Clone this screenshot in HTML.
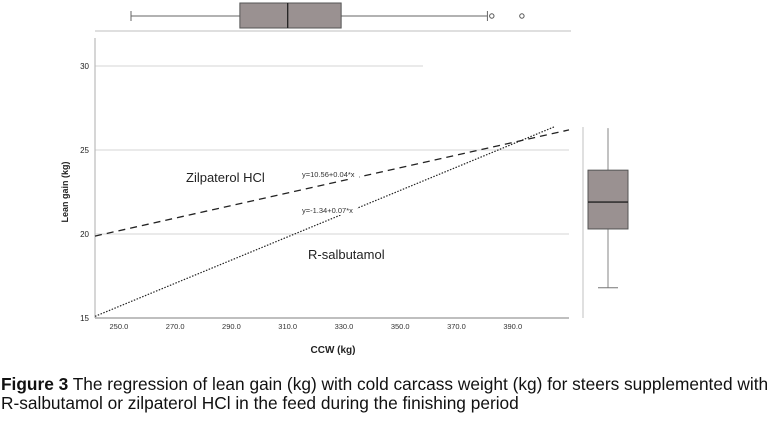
<!DOCTYPE html>
<html><head><meta charset="utf-8"><style>
body{margin:0;background:#fff;width:768px;height:422px;overflow:hidden;font-family:"Liberation Sans",sans-serif}
svg text{font-family:"Liberation Sans",sans-serif}
.cap{position:absolute;left:1px;top:375px;font-size:17.3px;line-height:19px;color:#111;width:767px;white-space:nowrap}
</style></head><body>
<svg width="768" height="370" style="position:absolute;left:0;top:0" id="chart"></svg>
<div class="cap"><b>Figure 3</b> The regression of lean gain (kg) with cold carcass weight (kg) for steers supplemented with<br>R-salbutamol or zilpaterol HCl in the feed during the finishing period</div>
<script>
const xTicks=[250,270,290,310,330,350,370,390];
const yTicks=[15,20,25,30];
const zilIntercept=10.82, zilSlope=0.0375;
const salIntercept=-1.59, salSlope=0.0691;
const ccwBox=[254.3,293,310,329,381];
const ccwOutliers=[382.2,392.9];
const leanBox=[16.8,20.3,21.9,23.8,26.3];
const NS="http://www.w3.org/2000/svg", svg=document.getElementById('chart');
const X0=241.5,X1=410,PL=95,PR=569,YT=66,YB=318;
const sx=v=>PL+(v-X0)*(PR-PL)/(X1-X0);
const sy=v=>YB-(v-15)*(YB-YT)/15;
function el(t,a,name,txt){const e=document.createElementNS(NS,t);for(const k in a)e.setAttribute(k,a[k]);


if(txt)e.textContent=txt;svg.appendChild(e);return e;}
yTicks.forEach(t=>{if(t>15)el('line',{x1:PL,x2:t==30?423:PR,y1:sy(t),y2:sy(t),stroke:'#ddd','stroke-width':1.2},'gridline-'+t);
el('text',{x:PL-6,y:sy(t)+3,'font-size':8,'text-anchor':'end',fill:'#222'},'y-tick-'+t,String(t));});
el('line',{x1:PL,x2:PL,y1:38,y2:YB,stroke:'#bbb','stroke-width':1.2},'y-axis');
el('line',{x1:PL,x2:PR,y1:YB,y2:YB,stroke:'#999','stroke-width':1.2},'x-axis');
xTicks.forEach(t=>el('text',{x:sx(t),y:YB+11,'font-size':7.5,'text-anchor':'middle',fill:'#333'},'x-tick-'+t,t.toFixed(1)));
el('text',{x:333,y:353,'font-size':10,'font-weight':'bold','text-anchor':'middle',fill:'#222'},'x-axis-title','CCW (kg)');
el('text',{x:0,y:0,'font-size':9,'font-weight':'bold','text-anchor':'middle',fill:'#222',transform:'translate(68,192) rotate(-90)'},'y-axis-title','Lean gain (kg)');
el('line',{x1:sx(X0),y1:sy(zilIntercept+zilSlope*X0),x2:sx(X1),y2:sy(zilIntercept+zilSlope*X1),stroke:'#222','stroke-width':1.3,'stroke-dasharray':'7,5'},'zilpaterol-line');
const sEnd=405;
el('line',{x1:sx(X0),y1:sy(salIntercept+salSlope*X0),x2:sx(sEnd),y2:sy(salIntercept+salSlope*sEnd),stroke:'#222','stroke-width':1.2,'stroke-dasharray':'1.5,1.5'},'salbutamol-line');
el('rect',{x:300,y:169,width:59,height:10,fill:'#fff'},'eq-bg-1');
el('text',{x:302,y:177,'font-size':7.5,fill:'#333'},'zilpaterol-equation','y=10.56+0.04*x');
el('rect',{x:301,y:205,width:56,height:10,fill:'#fff'},'eq-bg-2');
el('text',{x:302,y:213,'font-size':7.5,fill:'#333'},'salbutamol-equation','y=-1.34+0.07*x');
el('text',{x:186,y:182,'font-size':13,fill:'#222'},'zilpaterol-label','Zilpaterol HCl');
el('text',{x:308,y:259,'font-size':13,fill:'#222'},'salbutamol-label','R-salbutamol');
el('line',{x1:PL,x2:PR+2,y1:31,y2:31,stroke:'#ccc','stroke-width':1.2},'top-panel-line');
el('line',{x1:sx(ccwBox[0]),x2:sx(ccwBox[4]),y1:16,y2:16,stroke:'#666','stroke-width':1},'ccw-whisker');
[0,4].forEach(i=>el('line',{x1:sx(ccwBox[i]),x2:sx(ccwBox[i]),y1:11,y2:21,stroke:'#666'},'ccw-cap-'+i));
el('rect',{x:sx(ccwBox[1]),y:3,width:sx(ccwBox[3])-sx(ccwBox[1]),height:25,fill:'#9a9191',stroke:'#555'},'ccw-box');
el('line',{x1:sx(ccwBox[2]),x2:sx(ccwBox[2]),y1:3,y2:28,stroke:'#222','stroke-width':1.3},'ccw-median');
ccwOutliers.forEach((o,i)=>el('circle',{cx:sx(o)+1,cy:16,r:2.2,fill:'none',stroke:'#555'},'ccw-outlier-'+i));
el('line',{x1:583,x2:583,y1:127,y2:YB,stroke:'#ccc','stroke-width':1.2},'right-panel-line');
el('line',{x1:608,x2:608,y1:sy(leanBox[4]),y2:sy(leanBox[0]),stroke:'#999','stroke-width':1.2},'lean-whisker');
el('line',{x1:598,x2:618,y1:sy(leanBox[0]),y2:sy(leanBox[0]),stroke:'#777'},'lean-cap');
el('rect',{x:588,y:sy(leanBox[3]),width:40,height:sy(leanBox[1])-sy(leanBox[3]),fill:'#9a9191',stroke:'#555'},'lean-box');
el('line',{x1:588,x2:628,y1:sy(leanBox[2]),y2:sy(leanBox[2]),stroke:'#222','stroke-width':1.3},'lean-median');
</script>
</body></html>
